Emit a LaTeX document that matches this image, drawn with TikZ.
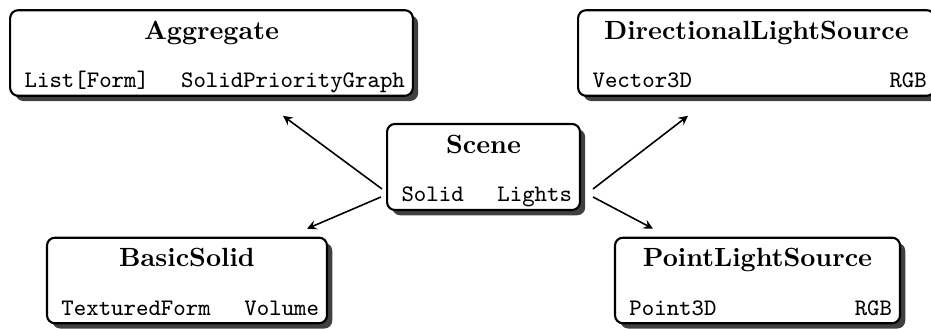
\documentclass[tikz,border=0pt]{standalone}
\usepackage{tikz}
\usetikzlibrary{shadows}

\begin{document}
\begin{tikzpicture}[x=0.38pt, y=0.38pt, >=stealth,
    cls/.style={draw, thick, rounded corners=3pt, fill=white, align=center,
        inner xsep=3pt, inner ysep=0pt,
        drop shadow={opacity=1, fill=black!75, shadow xshift=2pt, shadow yshift=-2pt}}]
    \useasboundingbox (0,0) rectangle (931,329);
    \clip (0,0) rectangle (931,329);

    \node[cls, text width=147pt, minimum height=31.2pt] (agg) at (211.5,276)
        {\rule{0pt}{11pt}\textbf{Aggregate}\\[6.5pt]\small\ttfamily\hspace*{2.5pt}List[Form]\hfill SolidPriorityGraph\rule[-3pt]{0pt}{0pt}};
    \node[cls, text width=129.5pt, minimum height=31.2pt] (dls) at (756.4,276)
        {\rule{0pt}{11pt}\textbf{DirectionalLightSource}\\[6.5pt]\small\ttfamily\hspace*{2.5pt}Vector3D\hfill RGB\rule[-3pt]{0pt}{0pt}};
    \node[cls, text width=67.3pt, minimum height=32.7pt] (scene) at (483.5,162)
        {\rule{0pt}{11pt}\textbf{Scene}\\[6.5pt]\small\ttfamily\hspace*{2.5pt}Solid\hfill Lights\rule[-3pt]{0pt}{0pt}};
    \node[cls, text width=100.4pt, minimum height=32.3pt] (basic) at (187,48.5)
        {\rule{0pt}{11pt}\textbf{BasicSolid}\\[6.5pt]\small\ttfamily\hspace*{2.5pt}TexturedForm\hfill Volume\rule[-3pt]{0pt}{0pt}};
    \node[cls, text width=102.3pt, minimum height=32.3pt] (point) at (757.5,48.5)
        {\rule{0pt}{11pt}\textbf{PointLightSource}\\[6.5pt]\small\ttfamily\hspace*{2.5pt}Point3D\hfill RGB\rule[-3pt]{0pt}{0pt}};

    \draw[->, semithick] ([shift={(-4,-22)}]scene.west) -- ([shift={(71.5,-19)}]agg.south);
    \draw[->, semithick] ([shift={(-5,-30)}]scene.west) -- ([shift={(120,8)}]basic.north);
    \draw[->, semithick] ([shift={(12,-22)}]scene.east) -- ([shift={(-68.4,-19)}]dls.south);
    \draw[->, semithick] ([shift={(12,-30)}]scene.east) -- ([shift={(-104.5,8)}]point.north);
\end{tikzpicture}
\end{document}
